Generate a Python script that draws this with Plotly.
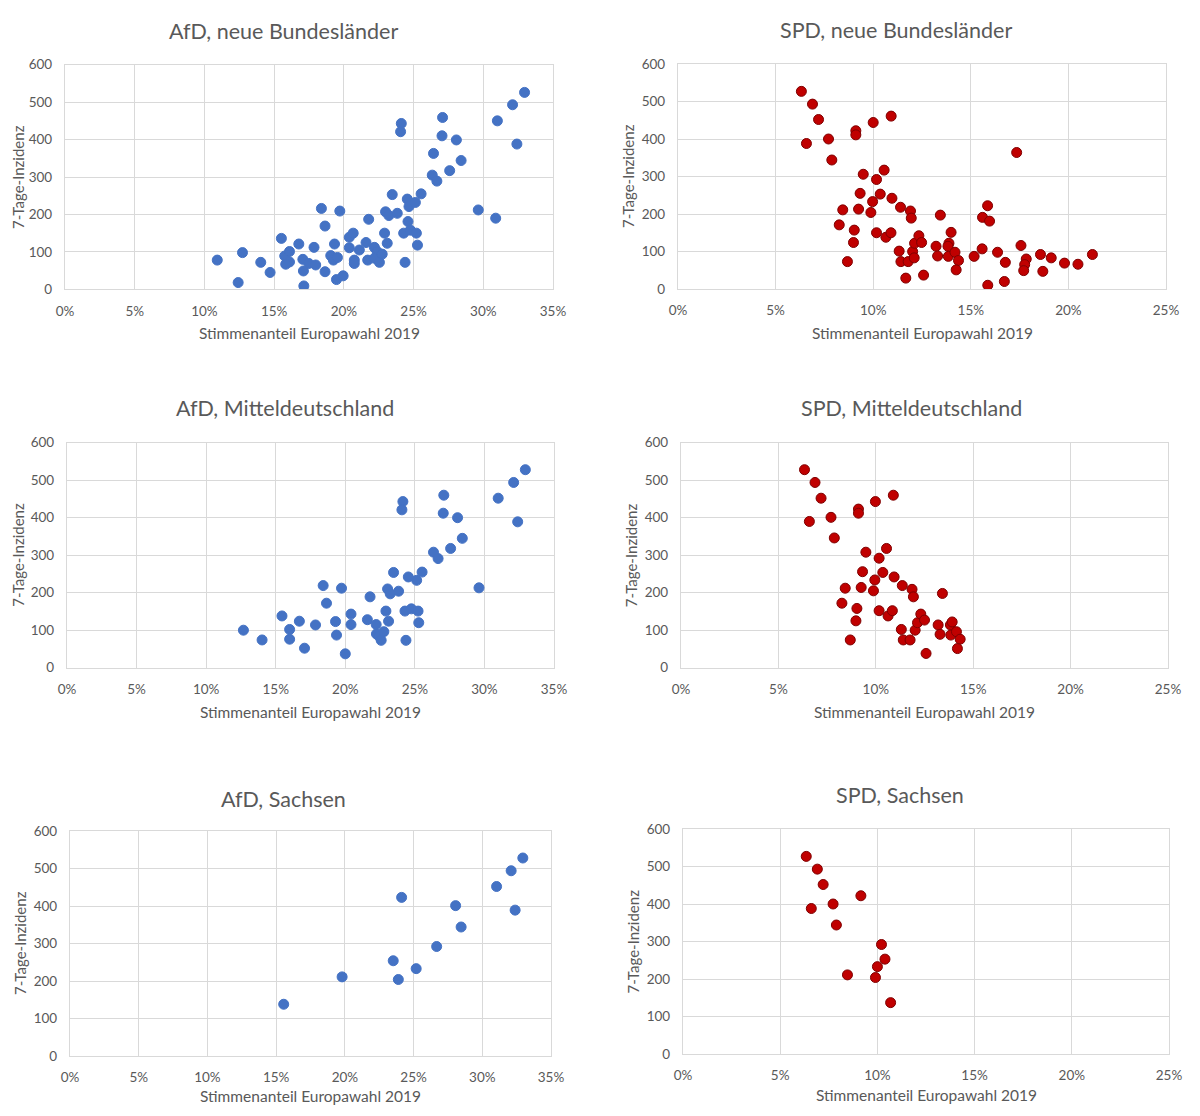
import plotly.graph_objects as go

# ---------------- data (x: Stimmenanteil in %, y: 7-Tage-Inzidenz) ----------------
afd_neue_x = [10.92, 12.73, 12.42, 14.04, 14.71, 15.52, 15.76, 16.1, 16.1, 15.83, 16.77,
              17.06, 17.1, 17.13, 17.49, 17.86, 17.98, 18.39, 18.65, 18.65, 19.06,
              19.25, 19.33, 19.54, 19.47, 19.71, 19.95, 20.39, 20.67, 20.39, 20.75,
              20.75, 21.11, 21.59, 21.78, 21.71, 22.19, 22.39, 22.19, 22.55, 22.75,
              22.92, 23.11, 22.99, 23.23, 23.47, 23.83, 24.12, 24.07, 24.29, 24.39,
              24.6, 24.55, 24.67, 24.77, 25.13, 25.2, 25.28, 25.54, 26.34, 26.67,
              26.43, 27.04, 27.08, 27.59, 28.07, 28.41, 29.64, 30.89, 31.01, 32.1,
              32.41, 32.96]
afd_neue_y = [78, 98, 18, 72, 45, 136, 89, 101, 73, 67, 121,
              80, 49, 9, 69, 112, 65, 216, 169, 47, 90,
              78, 121, 85, 26, 209, 36, 139, 150, 111, 78,
              69, 105, 125, 187, 78, 112, 101, 83, 72, 94,
              150, 123, 207, 197, 253, 203, 443, 421, 150, 72,
              181, 241, 221, 158, 232, 150, 118, 255, 305, 289,
              363, 410, 459, 317, 399, 344, 212, 190, 450, 493,
              388, 526]

spd_neue_x = [6.32, 6.89, 7.2, 6.58, 7.71, 7.88, 9.11, 9.11, 10.0, 10.92, 9.49, 10.17,
              10.56, 9.33, 10.36, 9.97, 10.96, 8.44, 9.25, 9.88, 8.26, 9.03, 8.99, 8.68,
              10.17, 10.65, 10.91,
              11.4, 11.91, 11.95, 13.44, 11.33, 11.42, 11.79, 11.67, 12.02, 12.12, 12.34,
              12.48, 12.58, 12.1, 13.22, 13.3, 13.88, 13.99, 13.83, 13.85, 14.19, 14.37,
              14.25, 15.17, 15.58, 15.6, 15.86, 15.96, 15.87, 16.37, 16.77, 16.72, 17.35,
              17.57, 17.84, 17.76, 17.71, 18.57, 18.69, 19.12, 19.8, 20.49, 21.23]
spd_neue_y = [527, 493, 452, 388, 400, 344, 422, 411, 444, 461, 306, 292,
              317, 255, 253, 233, 242, 211, 213, 204, 171, 157, 124, 73,
              150, 138, 150,
              218, 208, 189, 197, 101, 73, 73, 29, 100, 122, 142,
              124, 37, 83, 114, 88, 122, 151, 114, 87, 98, 76,
              51, 87, 107, 191, 222, 181, 10, 98, 71, 20, 364,
              116, 80, 65, 49, 92, 47, 83, 69, 66, 92]

afd_mittel_x = [12.68, 14.02, 15.45, 16.0, 16.0, 16.7, 17.07, 17.86, 18.41, 18.65, 19.3,
                19.37, 19.73, 20.0, 20.41, 20.41, 21.59, 21.78, 22.22, 22.24, 22.43,
                22.77, 22.58, 22.92, 23.11, 23.04, 23.23, 23.47, 23.83, 24.14, 24.07,
                24.29, 24.36, 24.53, 24.75, 25.13, 25.23, 25.28, 25.52, 26.34, 26.67,
                27.04, 27.08, 27.57, 28.07, 28.41, 29.61, 30.99, 32.1, 32.39, 32.94]
afd_mittel_y = [100, 74, 138, 102, 76, 124, 52, 114, 219, 172, 123,
                87, 212, 37, 143, 115, 128, 189, 115, 90, 84,
                96, 73, 151, 124, 210, 197, 254, 204, 443, 421,
                151, 73, 242, 157, 233, 151, 120, 255, 308, 291,
                412, 460, 318, 400, 345, 213, 452, 494, 389, 528]

spd_mittel_x = [6.34, 6.88, 7.19, 6.59, 7.7, 7.87, 9.11, 9.11, 9.98, 10.9, 9.49, 10.17,
                10.55, 9.32, 10.36, 9.95, 10.94, 8.43, 9.25, 9.88, 8.26, 9.03, 8.98, 8.69,
                10.17, 10.63, 10.85, 11.36, 11.86, 11.93, 13.42, 11.31, 11.41, 11.76,
                12.02, 12.14, 12.31, 12.5, 12.58, 13.2, 13.3, 13.83, 13.92, 13.85, 14.14,
                14.33, 14.19]
spd_mittel_y = [528, 494, 452, 390, 401, 346, 423, 412, 443, 460, 308, 292,
                318, 256, 254, 234, 242, 212, 214, 205, 172, 158, 125, 74,
                152, 138, 152, 219, 209, 189, 198, 102, 74, 74,
                100, 120, 143, 127, 38, 114, 89, 114, 122, 87, 96,
                76, 51]

afd_sachsen_x = [15.55, 19.8, 23.52, 23.89, 24.13, 25.19, 26.68, 28.06, 28.46, 31.04, 32.1, 32.39, 32.95]
afd_sachsen_y = [138, 211, 254, 204, 423, 233, 292, 401, 344, 452, 494, 389, 528]

spd_sachsen_x = [6.34, 6.91, 7.21, 6.6, 7.72, 9.15, 7.89, 10.21, 10.39, 10.0, 8.46, 9.9, 10.68]
spd_sachsen_y = [527, 493, 452, 388, 400, 422, 344, 292, 253, 233, 211, 204, 137]

titles = ["AfD, neue Bundesländer", "SPD, neue Bundesländer",
          "AfD, Mitteldeutschland", "SPD, Mitteldeutschland",
          "AfD, Sachsen", "SPD, Sachsen"]
x_title = "Stimmenanteil Europawahl 2019"
y_title = "7-Tage-Inzidenz"
y_ticks = [0, 100, 200, 300, 400, 500, 600]

# ---------------- layout geometry ----------------
# The page body has an 8px margin, so the figure is sized to fit inside the
# 1200x1116 window and all target pixel positions are shifted by that margin.
OFF = 8
W, H = 1200 - 2 * OFF, 1116 - 2 * OFF
FONT = "Lato"
TXT = "#595959"
GRID = "#D9D9D9"
BLUE = "#4472C4"
RED = "#C00000"

panels = [
    (afd_neue_x, afd_neue_y, BLUE, BLUE, 35, (65, 553, 64.7, 289.3), (283, 31), 333, 18),
    (spd_neue_x, spd_neue_y, RED, "#7F0000", 25, (678, 1166, 64, 289), (896, 30), 333, 627.5),
    (afd_mittel_x, afd_mittel_y, BLUE, BLUE, 35, (67, 554, 442.7, 667.7), (285, 408), 712, 18.5),
    (spd_mittel_x, spd_mittel_y, RED, "#7F0000", 25, (681, 1168, 442.7, 667.7), (911, 408), 712, 631),
    (afd_sachsen_x, afd_sachsen_y, BLUE, BLUE, 35, (70, 551, 831, 1056), (283, 799), 1096, 19.5),
    (spd_sachsen_x, spd_sachsen_y, RED, "#7F0000", 25, (683, 1169, 829, 1054), (900, 795), 1095, 632),
]


def px(v):
    return (v - OFF) / W


def py(v):
    return 1 - (v - OFF) / H


fig = go.Figure()
annotations = []
layout_axes = {}

for i, (xs, ys, col, edge, xmax, box, tpos, xty, ytx) in enumerate(panels, start=1):
    x0, x1, yt, yb = box
    xa = "x" if i == 1 else f"x{i}"
    ya = "y" if i == 1 else f"y{i}"
    fig.add_trace(go.Scatter(
        x=xs, y=ys, mode="markers", xaxis=xa, yaxis=ya, showlegend=False,
        marker=dict(size=10, color=col, line=dict(color=edge, width=1)),
        hoverinfo="x+y",
    ))
    xkey = "xaxis" if i == 1 else f"xaxis{i}"
    ykey = "yaxis" if i == 1 else f"yaxis{i}"
    layout_axes[xkey] = dict(
        domain=[px(x0), px(x1)], anchor=ya, range=[0, xmax],
        tickmode="array", tickvals=list(range(0, xmax + 1, 5)),
        ticktext=[f"{v}%" for v in range(0, xmax + 1, 5)],
        showgrid=True, gridcolor=GRID, gridwidth=1.3,
        showline=True, linecolor=GRID, linewidth=1.3, mirror=True,
        zeroline=False, ticks="", ticklabelstandoff=9, automargin=False,
        tickfont=dict(family=FONT, size=13.5, color=TXT), fixedrange=True,
    )
    layout_axes[ykey] = dict(
        domain=[py(yb), py(yt)], anchor=xa, range=[0, 600],
        tickmode="array", tickvals=y_ticks,
        showgrid=True, gridcolor=GRID, gridwidth=1.3,
        showline=True, linecolor=GRID, linewidth=1.3, mirror=True,
        zeroline=False, ticks="", ticklabelstandoff=9, automargin=False,
        tickfont=dict(family=FONT, size=13.5, color=TXT), fixedrange=True,
    )
    annotations.append(dict(
        text=titles[i - 1], xref="paper", yref="paper",
        x=px(tpos[0]), y=py(tpos[1]), xanchor="center", yanchor="middle",
        showarrow=False, font=dict(family=FONT, size=21.5, color=TXT),
    ))
    annotations.append(dict(
        text=x_title, xref="paper", yref="paper",
        x=px((x0 + x1) / 2), y=py(xty), xanchor="center", yanchor="middle",
        showarrow=False, font=dict(family=FONT, size=15.5, color=TXT),
    ))
    annotations.append(dict(
        text=y_title, xref="paper", yref="paper", textangle=-90,
        x=px(ytx), y=py((yt + yb) / 2), xanchor="center", yanchor="middle",
        showarrow=False, font=dict(family=FONT, size=15, color=TXT),
    ))

fig.update_layout(
    width=W, height=H,
    margin=dict(l=0, r=0, t=0, b=0, pad=0, autoexpand=False),
    paper_bgcolor="white", plot_bgcolor="white",
    annotations=annotations,
    **layout_axes,
)

fig.write_html("out.html")
